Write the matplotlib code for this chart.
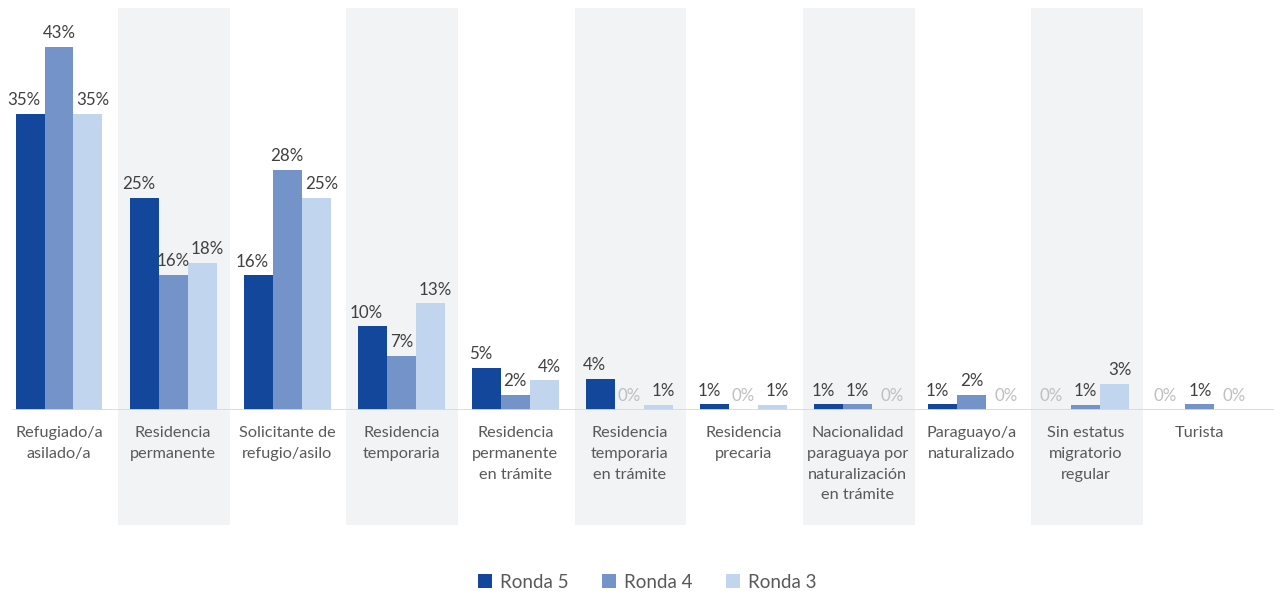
import matplotlib
matplotlib.use("Agg")
import matplotlib.pyplot as plt
from matplotlib.patches import Rectangle
import numpy as np

categories = ["Refugiado/a\nasilado/a", "Residencia\npermanente", "Solicitante de\nrefugio/asilo",
              "Residencia\ntemporaria", "Residencia\npermanente\nen trámite", "Residencia\ntemporaria\nen trámite",
              "Residencia\nprecaria", "Nacionalidad\nparaguaya por\nnaturalización\nen trámite",
              "Paraguayo/a\nnaturalizado", "Sin estatus\nmigratorio\nregular", "Turista"]
series_names = ["Ronda 5", "Ronda 4", "Ronda 3"]
ronda5 = [35.0, 25.1, 15.9, 9.9, 5.0, 3.7, 0.7, 0.7, 0.7, 0.0, 0.0]
ronda4 = [42.9, 16.0, 28.4, 6.4, 1.8, 0.0, 0.0, 0.7, 1.8, 0.6, 0.7]
ronda3 = [35.0, 17.4, 25.1, 12.6, 3.5, 0.6, 0.6, 0.0, 0.0, 3.1, 0.0]
labels5 = [35, 25, 16, 10, 5, 4, 1, 1, 1, 0, 0]
labels4 = [43, 16, 28, 7, 2, 0, 0, 1, 2, 1, 1]
labels3 = [35, 18, 25, 13, 4, 1, 1, 0, 0, 3, 0]

colors = ["#13479B", "#7393C9", "#C2D5EE"]
band_color = "#F2F3F5"
font = ["Lato", "DejaVu Sans"]

fig = plt.figure(figsize=(12.74, 5.95), dpi=100)
ax = fig.add_axes([12/1274, 185/595, 1 - 12/1274, 402/595])
ax.set_xlim(-0.412, 10.65)
ax.set_ylim(0, 47.5)

x = np.arange(len(categories))
w = 0.254
trans = ax.get_xaxis_transform()
band_bottom = (410 - 525) / 402
for i in x:
    if i % 2 == 1:
        ax.add_patch(Rectangle((i - 0.48, band_bottom), 0.98, 1 - band_bottom, transform=trans,
                               facecolor=band_color, edgecolor="none", clip_on=False, zorder=0))

all_vals = [ronda5, ronda4, ronda3]
all_labels = [labels5, labels4, labels3]
label_shift = [-0.05, 0.0, 0.045]
for k in range(3):
    pos = x + (k - 1) * w
    ax.bar(pos, all_vals[k], width=w, color=colors[k], label=series_names[k], zorder=2)
    for p, v, lab in zip(pos, all_vals[k], all_labels[k]):
        col = "#BFBFBF" if lab == 0 else "#404040"
        ax.annotate(f"{lab}%", (p + label_shift[k], v), xytext=(0, 4), textcoords="offset points",
                    ha="center", va="bottom", fontsize=12.2, color=col, family=font, zorder=3)

ax.axhline(0, color="#D9D9D9", lw=2, zorder=3)
for i, c in zip(x, categories):
    ax.text(i, -16 / 402, c, transform=trans, ha="center", va="top", fontsize=11.7,
            color="#595959", family=font, linespacing=1.62)

for s in ax.spines.values():
    s.set_visible(False)
ax.set_xticks([])
ax.set_yticks([])

leg = fig.legend(loc="center", bbox_to_anchor=(0.508, 13 / 595), ncol=3, frameon=False,
                 handlelength=0.75, handleheight=0.75, columnspacing=1.8, handletextpad=0.4,
                 prop={"family": font, "size": 13.5})
for t in leg.get_texts():
    t.set_color("#595959")

fig.savefig("out.png", dpi=100)
